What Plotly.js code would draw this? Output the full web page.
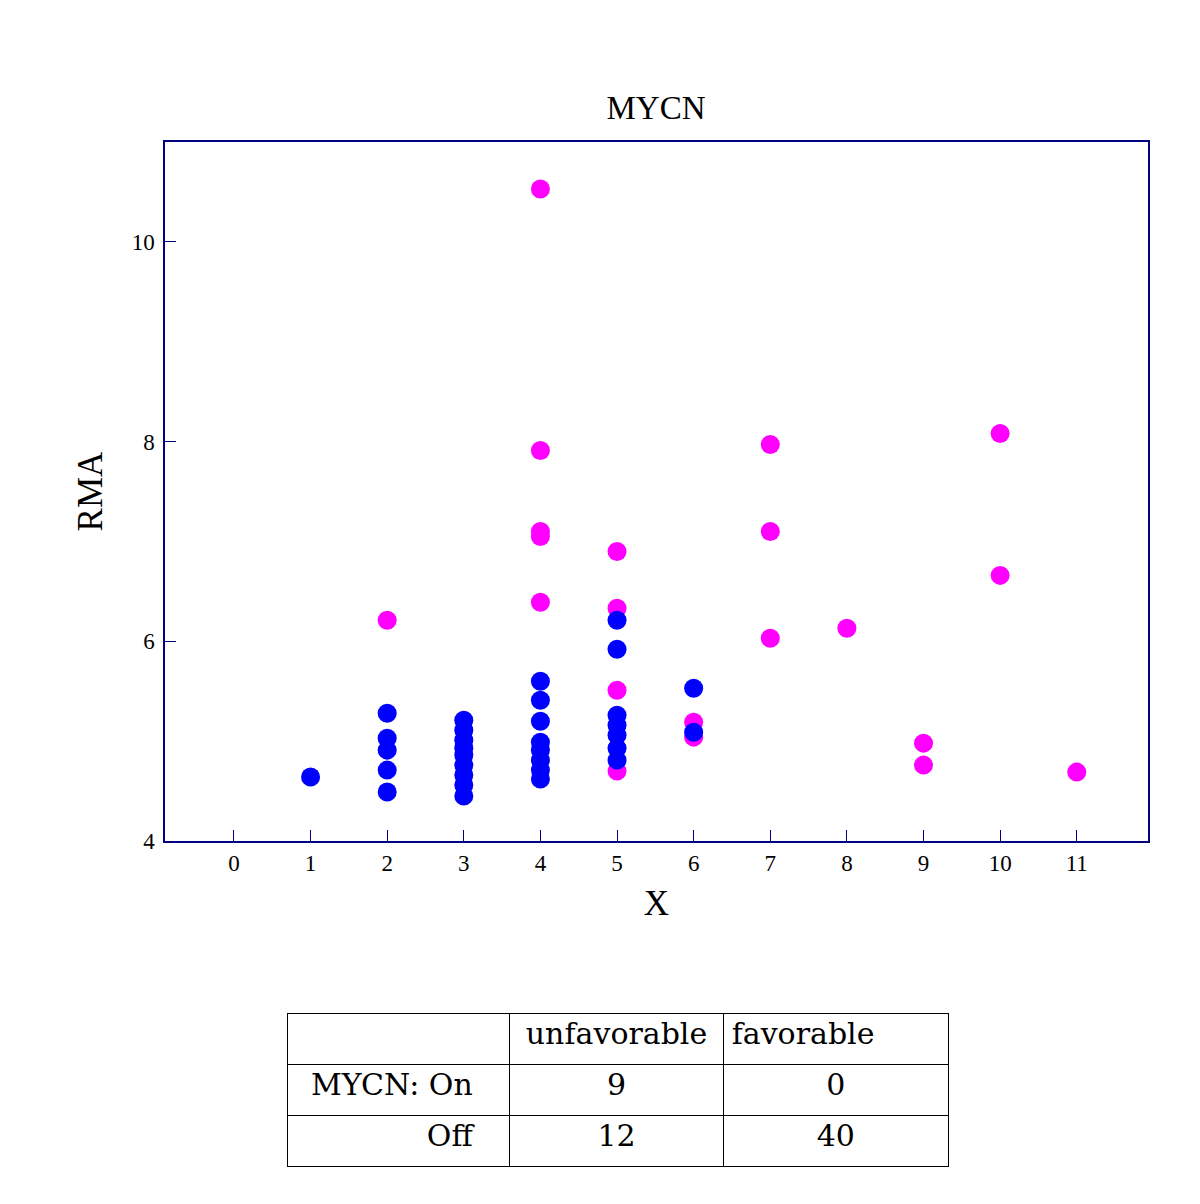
<!DOCTYPE html>
<html>
<head>
<meta charset="utf-8">
<script src="https://cdn.plot.ly/plotly-3.0.1.min.js"></script>
<style>
  body { margin: 0; background: #fff; }
  #chart { width: 1200px; height: 1204px; }
</style>
</head>
<body>
<div id="chart"></div>
<script>
// magenta points
var pinkX = [2, 4, 4, 4, 4, 4, 5, 5, 5, 5, 6, 6, 7, 7, 7, 8, 9, 9, 10, 10, 11];
var pinkY = [6.21, 10.53, 7.91, 7.10, 7.05, 6.39, 6.90, 6.33, 5.51, 4.70, 5.19, 5.04, 7.97, 7.10, 6.03, 6.13, 4.98, 4.76, 8.08, 6.66, 4.69];

// blue points
var blueX = [1, 2, 2, 2, 2, 2, 3, 3, 3, 3, 3, 3, 3, 3, 3, 4, 4, 4, 4, 4, 4, 4, 4, 5, 5, 5, 5, 5, 5, 5, 6, 6];
var blueY = [4.64, 5.28, 5.03, 4.91, 4.71, 4.49,
             5.21, 5.11, 5.01, 4.93, 4.86, 4.76, 4.66, 4.56, 4.45,
             5.60, 5.41, 5.20, 4.99, 4.91, 4.81, 4.71, 4.62,
             6.21, 5.92, 5.26, 5.16, 5.06, 4.93, 4.81,
             5.53, 5.09];

var xTicks = [0, 1, 2, 3, 4, 5, 6, 7, 8, 9, 10, 11];
var yTicks = [4, 6, 8, 10];

// contingency table
var tableHead = ['', 'unfavorable', 'favorable'];
var rowNames = ['MYCN: On', 'Off'];
var unfavCounts = [9, 12];
var favCounts = [0, 40];

var axisColor = '#000080';
var serif = 'Liberation Serif, Times New Roman, serif';
// row labels sit right aligned with some room before the cell line
var pad = '\u00a0\u00a0\u00a0';
var rowLabels = rowNames.map(function(s) { return s + pad; });

var data = [{
    x: pinkX,
    y: pinkY,
    type: 'scatter',
    mode: 'markers',
    hoverinfo: 'x+y',
    marker: {color: '#ff00ff', size: 19},
    showlegend: false
}, {
    x: blueX,
    y: blueY,
    type: 'scatter',
    mode: 'markers',
    hoverinfo: 'x+y',
    marker: {color: '#0000ff', size: 19},
    showlegend: false
}, {
    type: 'table',
    domain: {x: [287/1200, 948/1200], y: [1 - 1167/1204, 1 - 1013/1204]},
    columnwidth: [222, 214, 224],
    header: {
        values: tableHead,
        align: ['center', 'center', 'left'],
        height: 51,
        line: {color: '#000', width: 1},
        fill: {color: '#fff'},
        font: {family: 'DejaVu Serif', size: 30, color: '#000'}
    },
    cells: {
        values: [rowLabels, unfavCounts, favCounts],
        align: ['right', 'center', 'center'],
        height: 51,
        line: {color: '#000', width: 1},
        fill: {color: '#fff'},
        font: {family: 'DejaVu Serif', size: 30, color: '#000'}
    }
}];

var layout = {
    width: 1200,
    height: 1204,
    margin: {t: 0, b: 0, l: 0, r: 0},
    paper_bgcolor: '#fff',
    plot_bgcolor: '#fff',
    title: {
        text: 'MYCN',
        font: {family: serif, size: 33, color: '#000'},
        x: 656/1200, xanchor: 'center',
        y: 1 - 107/1204, yanchor: 'middle'
    },
    xaxis: {
        domain: [165/1200, 1148/1200],
        range: [-0.9, 11.93],
        tickmode: 'array',
        tickvals: xTicks,
        ticks: 'inside',
        ticklen: 11,
        tickcolor: axisColor,
        tickfont: {family: serif, size: 23, color: '#000'},
        ticklabelstandoff: 1,
        showgrid: false,
        zeroline: false,
        showline: true,
        mirror: true,
        linecolor: axisColor,
        linewidth: 1.5,
        title: {text: 'X', font: {family: serif, size: 35, color: '#000'}, standoff: 15}
    },
    yaxis: {
        domain: [1 - 841/1204, 1 - 142/1204],
        range: [4, 11],
        tickmode: 'array',
        tickvals: yTicks,
        ticks: 'inside',
        ticklen: 11,
        tickcolor: axisColor,
        tickfont: {family: serif, size: 23, color: '#000'},
        ticklabelstandoff: 4,
        showgrid: false,
        zeroline: false,
        showline: true,
        mirror: true,
        linecolor: axisColor,
        linewidth: 1.5,
        title: {text: 'RMA', font: {family: serif, size: 35, color: '#000'}, standoff: 18}
    }
};

Plotly.newPlot('chart', data, layout, {displayModeBar: false});
</script>
</body>
</html>
